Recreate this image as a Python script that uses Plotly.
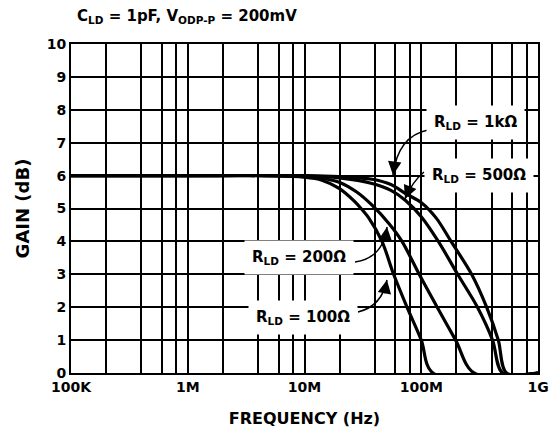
import plotly.graph_objects as go

# ---- data ----
freq_100 = [1e5, 1e6, 5e6, 1e7, 1.41e7, 1.98e7, 2.71e7, 3.05e7, 3.57e7, 4.61e7, 5.8e7, 7.55e7, 1.0e8, 1.26e8, 1e9]
gain_100 = [6.0, 6.0, 5.99, 5.95, 5.86, 5.61, 5.2, 5.0, 4.7, 4.0, 3.0, 2.0, 1.0, 0.0, 0.0]

freq_200 = [1e5, 1e6, 5e6, 1e7, 1.41e7, 1.98e7, 2.8e7, 3.79e7, 5.26e7, 6.84e7, 9.6e7, 1.37e8, 1.97e8, 2.83e8, 1e9]
gain_200 = [6.0, 6.0, 6.0, 5.97, 5.92, 5.8, 5.5, 5.1, 4.55, 4.0, 3.0, 2.0, 1.0, 0.0, 0.0]

freq_500 = [1e5, 1e6, 1e7, 1.98e7, 3.79e7, 5.5e7, 7.3e7, 1.0e8, 1.4e8, 2.05e8, 3.03e8, 4.08e8, 4.97e8, 1e9]
gain_500 = [6.0, 6.0, 5.99, 5.93, 5.76, 5.55, 5.25, 4.75, 4.0, 3.0, 2.0, 1.0, 0.0, 0.0]

freq_1k = [1e5, 1e6, 1e7, 1.98e7, 3.79e7, 5.5e7, 7.3e7, 1.01e8, 1.35e8, 1.8e8, 2.7e8, 3.63e8, 4.57e8, 5.38e8, 1e9]
gain_1k = [6.0, 6.0, 6.0, 5.97, 5.89, 5.73, 5.46, 5.17, 4.7, 4.0, 3.0, 2.0, 1.0, 0.0, 0.0]

x_tickvals = [1e5, 1e6, 1e7, 1e8, 1e9]
x_ticktext = ["100K", "1M", "10M", "100M", "1G"]
x_minor = [m * 10 ** d for d in range(5, 9) for m in (2, 4, 6, 8)]
y_tickvals = list(range(0, 11))

series = [
    ("100Ω", freq_100, gain_100),
    ("200Ω", freq_200, gain_200),
    ("500Ω", freq_500, gain_500),
    ("1kΩ", freq_1k, gain_1k),
]

FONT = "DejaVu Sans"
# page has an 8px body margin, so the figure is drawn at (8, 8)
OFF = 8
W, H = 557 - 2 * OFF, 436 - 2 * OFF
PX_L, PX_R, PX_T, PX_B = 71, 538, 44, 373        # plot area on screen
L, T = PX_L - OFF, PX_T - OFF
R, B = W - (PX_R - OFF), H - (PX_B - OFF)
PW, PH = PX_R - PX_L, PX_B - PX_T


def px(x, y):
    """screen pixel -> paper coordinates (for annotation placement only)"""
    return (x - PX_L) / PW, (PX_B - y) / PH


fig = go.Figure()
for name, f, g in series:
    fig.add_trace(go.Scatter(x=f, y=g, mode="lines", name=name,
                             line=dict(color="black", width=3.2, shape="spline", smoothing=0.9),
                             showlegend=False))

fig.update_layout(
    width=W, height=H,
    margin=dict(l=L, r=R, t=T, b=B, autoexpand=False),
    paper_bgcolor="white", plot_bgcolor="white",
    font=dict(family=FONT, color="black", size=14),
    xaxis=dict(type="log", range=[5, 9], tickvals=x_tickvals, ticktext=x_ticktext,
               showgrid=True, gridcolor="black", gridwidth=2,
               minor=dict(tickvals=x_minor, showgrid=True, gridcolor="black", gridwidth=2, ticks=""),
               showline=True, linecolor="black", linewidth=2, mirror=True,
               ticks="", tickfont=dict(family=FONT, size=14, weight="bold"),
               title=dict(text="<b>FREQUENCY (Hz)</b>", font=dict(family=FONT, size=16), standoff=22),
               zeroline=False, automargin=False),
    yaxis=dict(range=[0, 10], tickvals=y_tickvals,
               showgrid=True, gridcolor="black", gridwidth=2,
               showline=True, linecolor="black", linewidth=2, mirror=True,
               ticks="", tickfont=dict(family=FONT, size=14, weight="bold"),
               title=dict(text="<b>GAIN (dB)</b>", font=dict(family=FONT, size=18), standoff=12),
               zeroline=False, automargin=False),
)

# top condition text
tx, ty = px(75, 16)
fig.add_annotation(xref="paper", yref="paper", x=tx, y=ty, xanchor="left", yanchor="middle",
                   text="<b>C<sub>LD</sub> = 1pF, V<sub>ODP-P</sub> = 200mV</b>", showarrow=False,
                   font=dict(family=FONT, size=15))

# labels with white boxes
labels = [
    ("1kΩ", 475, 123),
    ("500Ω", 479, 175),
    ("200Ω", 299, 257),
    ("100Ω", 303, 317),
]
for name, cx, cy in labels:
    ax_, ay_ = px(cx, cy)
    fig.add_annotation(xref="paper", yref="paper", x=ax_, y=ay_, xanchor="center", yanchor="middle",
                       text=f"<b>R<sub>LD</sub> = {name}</b>", showarrow=False,
                       bgcolor="white", borderpad=7, font=dict(family=FONT, size=15))

# curved arrows: (tail, control, tip) in screen pixels
arrows = [
    ((428, 130), (398, 136), (393, 175)),
    ((424, 172), (412, 182), (405, 199)),
    ((355, 262), (383, 258), (387, 227)),
    ((358, 312), (382, 306), (387, 280)),
]
for (x0, y0), (xc, yc), (x1, y1) in arrows:
    p0, pc, p1 = px(x0, y0), px(xc, yc), px(x1, y1)
    fig.add_shape(type="path", xref="paper", yref="paper",
                  path=f"M {p0[0]},{p0[1]} Q {pc[0]},{pc[1]} {p1[0]},{p1[1]}",
                  line=dict(color="black", width=1.5))
    dx, dy = x1 - xc, y1 - yc
    n = (dx * dx + dy * dy) ** 0.5
    fig.add_annotation(xref="paper", yref="paper", x=p1[0], y=p1[1], text="", showarrow=True,
                       ax=-dx / n * 15, ay=-dy / n * 15, arrowhead=2, arrowsize=1.5,
                       arrowwidth=1.8, arrowcolor="black", standoff=0)

fig.write_html("out.html")
